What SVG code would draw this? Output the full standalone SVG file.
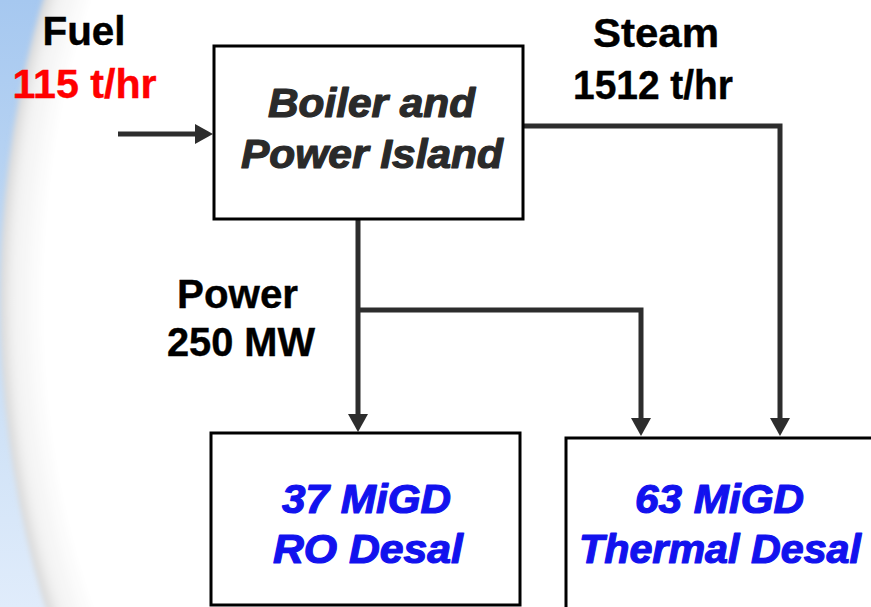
<svg xmlns="http://www.w3.org/2000/svg" width="871" height="607" viewBox="0 0 871 607">
  <defs>
    <linearGradient id="bg" x1="0" y1="0" x2="0" y2="1">
      <stop offset="0" stop-color="#a6c8f0"/>
      <stop offset="0.5" stop-color="#c4dbf4"/>
      <stop offset="1" stop-color="#e0ecfb"/>
    </linearGradient>
    <radialGradient id="glow" cx="0.5" cy="0.5" r="0.5">
      <stop offset="0.9" stop-color="#ffffff"/>
      <stop offset="0.97" stop-color="#f2f2f2"/>
      <stop offset="1" stop-color="#d8d8d8"/>
    </radialGradient>
    <filter id="soft" x="-0.1" y="-0.1" width="1.2" height="1.2">
      <feGaussianBlur stdDeviation="2.5"/>
    </filter>
    <marker id="arrow" markerUnits="userSpaceOnUse" markerWidth="20" markerHeight="22" viewBox="0 -11 20 22" refX="1" refY="0" orient="auto">
      <path d="M0,-10 L18,0 L0,10 z" fill="#2d2d2d"/>
    </marker>
    <style>
      .box { fill: #ffffff; stroke: #000000; stroke-width: 3; }
      .conn { fill: none; stroke: #2d2d2d; stroke-width: 5; stroke-linejoin: miter; }
      .lbl { font-family: "Liberation Sans", Arial, sans-serif; font-weight: bold; font-size: 40px; fill: #000000; stroke: #000000; stroke-width: 0.4; }
      .red { fill: #ff0000; stroke: #ff0000; }
      .node { font-family: "Liberation Sans", Arial, sans-serif; font-weight: bold; font-style: italic; font-size: 40px; stroke-width: 1.2; stroke-linejoin: round; }
      .dark { fill: #2a2a2a; stroke: #2a2a2a; }
      .blue { fill: #1212ee; stroke: #1212ee; }
    </style>
  </defs>

  <g id="background">
    <rect x="0" y="0" width="871" height="607" fill="url(#bg)"/>
    <ellipse cx="446" cy="300" rx="446" ry="700" fill="url(#glow)" filter="url(#soft)"/>
    <rect x="120" y="0" width="751" height="607" fill="#ffffff"/>
  </g>

  <g id="connectors">
    <path class="conn" d="M118,134 H196" marker-end="url(#arrow)"/>
    <path class="conn" d="M521,126 H780 V419" marker-end="url(#arrow)"/>
    <path class="conn" d="M358,219 V415" marker-end="url(#arrow)"/>
    <path class="conn" d="M358,310 H641 V419" marker-end="url(#arrow)"/>
  </g>

  <g id="fuel-label">
    <text class="lbl" x="42.5" y="45" textLength="83" lengthAdjust="spacingAndGlyphs">Fuel</text>
    <text class="lbl red" x="12.5" y="98" textLength="144" lengthAdjust="spacingAndGlyphs">115 t/hr</text>
  </g>

  <g id="steam-label">
    <text class="lbl" x="593" y="46.5" textLength="126" lengthAdjust="spacingAndGlyphs">Steam</text>
    <text class="lbl" x="573" y="99" textLength="160" lengthAdjust="spacingAndGlyphs">1512 t/hr</text>
  </g>

  <g id="power-label">
    <text class="lbl" x="177" y="308" textLength="121" lengthAdjust="spacingAndGlyphs">Power</text>
    <text class="lbl" x="167" y="356" textLength="148" lengthAdjust="spacingAndGlyphs">250 MW</text>
  </g>

  <g id="boiler">
    <rect class="box" x="214" y="46" width="309" height="173"/>
    <text class="node dark" x="268" y="117" textLength="207" lengthAdjust="spacingAndGlyphs">Boiler and</text>
    <text class="node dark" x="241" y="168" textLength="262" lengthAdjust="spacingAndGlyphs">Power Island</text>
  </g>

  <g id="ro-desal">
    <rect class="box" x="211" y="433" width="309" height="172"/>
    <text class="node blue" x="282" y="513" textLength="169" lengthAdjust="spacingAndGlyphs">37 MiGD</text>
    <text class="node blue" x="273" y="563" textLength="190" lengthAdjust="spacingAndGlyphs">RO Desal</text>
  </g>

  <g id="thermal-desal">
    <rect class="box" x="566" y="438" width="320" height="180"/>
    <text class="node blue" x="635" y="513" textLength="169" lengthAdjust="spacingAndGlyphs">63 MiGD</text>
    <text class="node blue" x="579" y="563" textLength="282" lengthAdjust="spacingAndGlyphs">Thermal Desal</text>
  </g>
</svg>
